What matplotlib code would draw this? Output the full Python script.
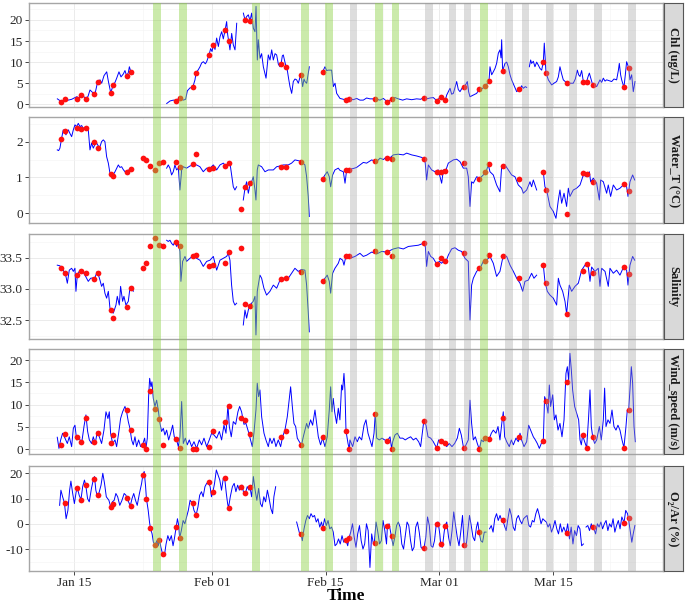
import numpy as np
import matplotlib
matplotlib.use("Agg")
import matplotlib.pyplot as plt

nan = float("nan")
plt.rcParams['font.family'] = ['Liberation Serif', 'DejaVu Serif']
plt.rcParams['axes.unicode_minus'] = False

# ---------------- data (x = day of year) ----------------
tick_days = [15, 32, 46, 60, 74]
tick_labels = ["Jan 15", "Feb 01", "Feb 15", "Mar 01", "Mar 15"]
minor_days = [23.5, 39, 53, 67, 81]

green_start = [24.73, 27.93, 36.92, 42.96, 45.90, 52.07, 54.16, 65.00]
green_end = [25.71, 28.92, 37.91, 43.90, 46.86, 53.00, 55.06, 65.95]
grey_start = [48.99, 58.26, 61.14, 63.03, 68.12, 70.17, 73.13, 76.00, 79.04, 83.26]
grey_end = [49.89, 59.17, 62.04, 63.93, 69.03, 71.07, 74.03, 76.90, 79.99, 84.21]

sample_t = [13.45, 13.85, 15.42, 15.88, 16.45, 17.5, 17.9, 19.5, 19.86, 21.48, 22.02,
            23.45, 23.86, 24.36, 24.97, 25.5, 25.92, 27.56, 28.05, 29.61, 30.0, 31.62,
            32.1, 33.62, 34.07, 35.56, 36.06, 36.67, 40.49, 41.1, 43.0, 45.62, 48.5,
            48.92, 52.07, 53.59, 54.12, 58.1, 59.66, 60.16, 60.73, 63.07, 64.92, 65.66,
            66.11, 67.79, 69.85, 72.8, 73.13, 75.67, 77.64, 78.14, 78.88, 82.74, 83.31]

chl_pts = [0.5, 1.3, 1.3, 2.1, 1.3, 2.5, 5.4, 2.8, 4.6, 6.7, 7.6,
           nan, nan, nan, nan, nan, nan, 0.9, 1.6, 4.0, 7.4, 11.7,
           14.1, 17.5, 15.0, nan, 20.0, 19.8, 9.5, 8.9, 7.0, 7.7, 1.0,
           1.3, 1.3, 0.6, 1.2, 1.6, 0.9, 1.7, 1.0, 4.2, 3.6, 4.3,
           5.5, 7.9, 3.6, 10.1, 7.5, 5.1, 5.4, 5.4, 4.6, 4.0, 8.7]
wt_pts = [2.07, 2.31, 2.37, 2.35, 2.37, 1.98, 1.82, 1.09, 1.05, 1.15, 1.24,
          1.53, 1.49, 1.32, 1.21, 1.40, 1.43, 1.44, 1.30, 1.38, 1.65, 1.23,
          1.26, 1.33, 1.40, 0.11, 0.74, 0.84, 1.30, 1.30, 1.42, 0.96, 1.21,
          1.21, 1.47, 1.55, 1.51, 1.52, 1.15, 1.15, 1.17, 1.40, 0.96, 1.14,
          1.37, 1.33, 0.95, 1.15, 0.65, -0.02, 1.12, 1.10, 0.88, 0.82, 0.62]
sal_pts = [33.34, 33.26, 33.22, 33.29, 33.25, 33.15, 33.25, 32.66, 32.54, 32.71, 33.02,
           33.33, 33.42, 33.68, 33.82, 33.70, 33.69, 33.75, 33.69, 33.53, 33.55, 33.37,
           33.39, 33.41, 33.59, 33.65, 32.75, 32.72, 33.16, 33.18, 33.27, 33.12, 33.53,
           33.52, 33.60, 33.59, 33.53, 33.74, 33.40, 33.49, 33.44, 33.58, 33.34, 33.44,
           33.54, 33.52, 33.18, 33.38, 33.10, 32.60, 33.29, 33.40, 33.26, 33.35, 33.24]
wind_pts = [0.97, 3.4, 2.8, 1.6, 7.1, 1.6, 3.6, 1.5, 3.2, 8.8, 4.3,
            1.0, 0.0, 13.1, 9.0, 6.7, 0.9, 2.2, 0.4, 0.15, 0.15, 0.6,
            4.1, 6.1, 9.8, 7.1, 6.5, 3.4, 2.7, 4.2, 1.0, 2.7, 4.1,
            0.0, 7.8, 1.9, 0.15, 6.3, 0.3, 1.9, 1.3, 0.2, 0.0, 2.6,
            2.2, 6.9, 2.7, 1.9, 10.9, 15.0, 3.1, 0.4, 2.8, 0.4, 8.8]
o2_pts = [nan, 8.3, 14.0, 9.6, 15.3, 17.7, 11.2, 6.7, 8.0, 10.4, 7.1,
          19.5, 10.0, -1.7, -8.3, -6.3, -12.1, -1.3, -5.7, 8.3, 3.6, 16.4,
          12.5, 18.3, 6.3, 14.7, 12.3, 14.7, nan, nan, -3.9, -1.7, -6.4,
          -5.7, -7.5, -0.8, -4.9, -9.6, -0.1, -7.9, -0.8, -8.3, -3.1, nan,
          nan, 1.6, nan, nan, nan, -3.7, nan, nan, -1.3, 0.5, 2.4]

chl_line = [
    (12.95, 1.3), (13.48, 0.6), (13.89, 1.3), (14.31, 1.0), (14.72, 1.2), (15.33, 1.8),
    (15.66, 1.5), (15.95, 2.1), (16.23, 1.8), (16.48, 1.3), (16.73, 1.9), (16.97, 3.4),
    (17.3, 2.8), (17.59, 2.5), (17.92, 5.4), (18.21, 5.8), (18.41, 5.0), (18.7, 6.8),
    (19.03, 7.7), (19.23, 5.5), (19.52, 2.8), (19.85, 4.6), (20.05, 5.2), (20.26, 6.2),
    (20.54, 7.7), (20.79, 6.5), (21.08, 7.2), (21.28, 8.0), (21.49, 6.7), (21.69, 7.5),
    (21.82, 8.9), (22.02, 7.6), (22.31, 7.2), (24.0, nan),
    (26.42, 0.2), (26.83, 0.8), (27.24, 1.0), (27.56, 0.9), (28.06, 1.6), (28.47, 1.0),
    (28.75, 1.2), (28.96, 3.2), (29.29, 3.9), (29.62, 4.0), (29.9, 5.8), (30.03, 7.4),
    (30.31, 8.2), (30.52, 8.9), (30.72, 9.8), (30.93, 10.1), (31.18, 9.6), (31.34, 10.1),
    (31.63, 11.7), (31.83, 13.2), (32.0, 12.5), (32.16, 14.1), (32.37, 13.0), (32.57, 15.7),
    (32.78, 13.7), (32.98, 16.0), (33.19, 17.2), (33.39, 15.5), (33.6, 17.5), (33.8, 19.6),
    (33.93, 16.5), (34.05, 15.0), (34.21, 12.9), (34.42, 16.8), (34.62, 14.1), (34.83, 12.9),
    (35.04, 19.2), (35.4, nan),
    (35.86, 21.6), (36.06, 20.0), (36.27, 20.8), (36.47, 21.2), (36.68, 19.8), (36.88, 21.6),
    (37.09, 18.0), (37.29, 17.2), (37.42, 23.2), (37.58, 10.5), (37.7, 15.3), (37.91, 10.9),
    (38.11, 12.0), (38.32, 8.9), (38.65, 6.2), (38.93, 11.7), (39.14, 10.5), (39.35, 12.9),
    (39.55, 10.5), (39.76, 12.0), (39.96, 11.7), (40.17, 9.5), (40.37, 8.9), (40.5, 9.5),
    (40.66, 11.5), (40.78, 11.7), (41.11, 8.9), (41.27, 8.1), (41.44, 6.0), (41.6, 4.2),
    (41.81, 2.6), (42.01, 5.4), (42.22, 6.0), (42.42, 5.8), (42.63, 5.0), (42.84, 6.5),
    (42.96, 7.0), (43.16, 4.2), (43.33, 6.0), (43.45, 5.4), (43.66, 5.0), (43.98, 8.9),
    (44.7, nan),
    (45.5, 7.6), (45.63, 7.7), (45.91, 8.9), (46.12, 8.0), (46.32, 8.1), (46.73, 8.1),
    (46.94, 4.2), (47.15, 5.0), (47.35, 2.6), (47.76, 1.4), (48.17, 1.2), (48.5, 1.0),
    (48.91, 1.3), (49.4, 1.1), (49.81, 1.4), (50.22, 1.0), (50.63, 1.0), (51.04, 1.5),
    (51.45, 1.3), (52.07, 1.3), (52.69, 1.0), (53.1, 1.4), (53.59, 0.6), (54.12, 1.2),
    (54.53, 1.6), (54.94, 1.3), (55.48, 1.0), (55.97, 1.3), (56.59, 1.1), (57.2, 1.3),
    (57.69, 1.2), (58.1, 1.6), (58.43, 1.3), (58.84, 1.5), (59.25, 1.6), (59.66, 0.9),
    (60.16, 1.7), (60.49, 1.3), (60.73, 1.0), (60.9, 2.2), (61.1, 3.0), (61.31, 3.8),
    (61.51, 2.4), (61.72, 2.6), (61.92, 4.0), (62.13, 5.4), (62.33, 3.5), (62.54, 3.0),
    (62.78, 3.8), (63.07, 4.2), (63.28, 4.8), (63.44, 5.4), (63.6, 3.0), (63.77, 1.8),
    (64.18, 2.2), (64.59, 2.6), (64.92, 3.6), (65.33, 3.8), (65.66, 4.3), (66.11, 5.5),
    (66.23, 8.9), (66.44, 7.0), (66.64, 7.7), (66.85, 8.5), (67.05, 9.7), (67.26, 12.1),
    (67.46, 12.9), (67.59, 11.0), (67.67, 15.3), (67.79, 7.9), (68.08, 9.7), (68.29, 10.0),
    (68.49, 8.9), (68.7, 7.0), (68.9, 5.8), (69.19, 4.5), (69.52, 3.0), (69.72, 3.4),
    (69.93, 3.6), (70.13, 4.4), (70.34, 3.8), (70.58, 4.2), (70.75, 4.0), (70.9, nan),
    (71.08, 8.9), (71.24, 10.5), (71.36, 9.7), (71.57, 10.2), (71.77, 8.9), (71.98, 10.0),
    (72.18, 9.3), (72.39, 8.5), (72.6, 8.1), (72.8, 10.1), (72.92, 14.5), (73.13, 7.5),
    (73.42, 5.8), (73.83, 4.6), (74.11, 5.0), (74.44, 5.4), (74.65, 6.5), (74.85, 8.9),
    (75.06, 7.2), (75.26, 5.8), (75.67, 5.1), (76.08, 5.0), (76.49, 5.0), (76.74, 6.0),
    (76.99, 8.1), (77.15, 7.0), (77.32, 6.6), (77.52, 8.0), (77.73, 5.4), (78.14, 5.4),
    (78.3, 6.5), (78.47, 7.4), (78.88, 4.6), (79.16, 4.5), (79.37, 4.2), (79.57, 5.0),
    (79.78, 5.8), (79.98, 5.2), (80.19, 6.2), (80.4, 5.5), (80.6, 5.8), (80.93, 5.6),
    (81.22, 5.4), (81.5, 6.0), (81.83, 5.8), (82.04, 8.0), (82.16, 9.7), (82.32, 7.0),
    (82.45, 5.8), (82.73, 4.0), (82.9, 7.0), (83.06, 10.1), (83.31, 8.7), (83.47, 5.8),
    (83.68, 7.0), (83.88, 3.0), (84.09, 5.4)]

wt_line = [
    (12.94, 1.77), (13.11, 1.75), (13.27, 1.82), (13.48, 2.1), (13.68, 2.33), (13.85, 2.28),
    (14.01, 2.19), (14.18, 2.28), (14.3, 2.33), (14.5, 2.23), (14.71, 2.14), (14.92, 2.33),
    (15.12, 2.47), (15.33, 2.42), (15.53, 2.51), (15.74, 2.42), (15.94, 2.45), (16.15, 2.37),
    (16.35, 2.40), (16.56, 2.42), (16.76, 2.33), (16.97, 1.77), (17.17, 1.96), (17.38, 1.82),
    (17.58, 1.92), (17.79, 1.96), (17.99, 1.88), (18.2, 1.86), (18.4, 2.0), (18.61, 2.05),
    (18.81, 2.0), (19.02, 1.58), (19.23, 1.40), (19.43, 1.12), (19.64, 1.07), (19.84, 1.08),
    (20.05, 1.16), (20.25, 1.25), (20.46, 1.35), (20.66, 1.28), (20.87, 1.30), (21.07, 1.22),
    (21.28, 1.16), (21.48, 1.15), (21.69, 1.21), (21.89, 1.18), (22.1, 1.24), (24.0, nan),
    (26.41, 1.26), (26.61, 1.35), (26.82, 1.26), (27.02, 1.07), (27.23, 1.16), (27.43, 1.35),
    (27.64, 1.21), (27.85, 1.26), (28.05, 0.65), (28.26, 1.21), (28.46, 1.30), (28.87, 1.26),
    (29.28, 1.32), (29.69, 1.35), (30.1, 1.35), (30.51, 1.30), (30.92, 1.16), (31.34, 1.26),
    (31.75, 1.26), (32.16, 1.35), (32.57, 1.21), (32.98, 1.35), (33.39, 1.40), (33.8, 1.30),
    (34.0, 1.42), (34.21, 1.40), (34.41, 1.07), (34.62, 0.74), (34.82, 0.65), (35.03, 0.74),
    (35.4, nan),
    (35.85, 0.37), (36.06, 0.70), (36.26, 0.88), (36.47, 0.56), (36.67, 0.79), (36.88, 0.88),
    (37.08, 1.02), (37.29, 0.65), (37.41, 0.37), (37.57, 1.21), (37.7, 1.35), (38.11, 1.30),
    (38.52, 1.16), (38.93, 1.21), (39.55, 1.21), (39.96, 1.30), (40.37, 1.32), (40.78, 1.35),
    (41.39, 1.35), (41.8, 1.40), (42.21, 1.49), (42.62, 1.47), (43.03, 1.44), (43.44, 1.35),
    (43.65, 1.02), (43.85, 0.47), (43.98, -0.09), (44.7, nan),
    (45.62, 0.96), (45.91, 1.07), (46.19, 1.16), (46.44, 1.02), (46.61, 0.74), (46.85, 1.07),
    (47.14, 1.21), (47.55, 1.26), (47.75, 1.20), (48.17, 1.16), (48.38, 0.84), (48.58, 1.21),
    (48.99, 1.23), (49.4, 1.25), (49.81, 1.28), (50.22, 1.35), (50.63, 1.42), (51.04, 1.40),
    (51.66, 1.49), (52.28, 1.44), (52.69, 1.54), (53.1, 1.50), (53.51, 1.58), (53.92, 1.55),
    (54.33, 1.63), (54.94, 1.65), (55.56, 1.63), (55.97, 1.68), (56.59, 1.63), (57.2, 1.60),
    (57.82, 1.56), (58.23, 1.49), (58.43, 0.93), (58.64, 1.35), (59.05, 1.21), (59.46, 1.16),
    (59.87, 1.21), (60.28, 0.84), (60.49, 1.21), (60.81, 1.21), (61.1, 1.40), (61.72, 1.49),
    (62.13, 1.51), (62.54, 1.44), (62.95, 1.26), (63.36, 1.26), (63.56, 1.02), (63.77, 0.19),
    (63.97, 0.88), (64.18, 0.84), (64.59, 1.02), (65.0, 0.98), (65.41, 1.07), (65.82, 1.21),
    (66.03, 1.35), (66.23, 1.16), (66.64, 1.07), (67.05, 0.79), (67.46, 0.60), (67.67, 1.30),
    (68.08, 1.35), (68.49, 1.21), (68.9, 1.07), (69.31, 1.02), (69.72, 0.79), (70.13, 0.70),
    (70.34, 0.56), (70.75, 0.65), (71.16, 0.88), (71.36, 0.74), (71.57, 0.93), (71.98, 0.65),
    (72.4, nan),
    (72.8, 1.15), (73.0, 0.74), (73.21, 0.65), (73.62, 0.19), (74.03, 0.05), (74.36, -0.14),
    (74.65, 0.37), (74.85, 0.65), (75.06, 0.28), (75.35, 0.56), (75.67, 0.19), (75.88, 0.70),
    (76.08, 0.47), (76.49, 0.65), (76.9, 0.70), (77.32, 0.79), (77.73, 1.07), (78.14, 1.02),
    (78.47, 1.16), (78.63, 0.88), (78.96, 0.98), (79.37, 0.84), (79.7, 0.37), (79.86, 0.93),
    (80.19, 0.88), (80.6, 0.56), (80.8, 0.79), (81.09, 0.47), (81.42, 0.79), (81.83, 0.65),
    (82.24, 0.70), (82.65, 0.79), (83.06, 0.74), (83.23, 0.47), (83.47, 0.88), (83.8, 1.07),
    (84.05, 0.93)]

sal_line = [
    (12.94, 33.38), (13.27, 33.37), (13.68, 33.30), (14.01, 33.20), (14.18, 33.09), (14.42, 33.30),
    (14.71, 33.33), (14.92, 33.28), (15.12, 33.33), (15.24, 32.96), (15.41, 33.22), (15.65, 33.28),
    (15.94, 33.30), (16.35, 33.22), (16.76, 33.12), (17.05, 33.17), (17.58, 33.18), (17.87, 33.28),
    (18.2, 33.14), (18.4, 33.04), (18.61, 33.09), (18.81, 32.93), (19.02, 32.85), (19.23, 32.96),
    (19.43, 32.69), (19.64, 32.63), (19.84, 32.61), (20.17, 32.74), (20.33, 32.88), (20.58, 32.74),
    (20.74, 33.04), (20.99, 32.80), (21.15, 32.88), (21.4, 32.74), (21.69, 32.80), (21.89, 33.01),
    (22.22, 33.04), (22.3, 32.96), (24.0, nan),
    (26.41, 33.78), (26.61, 33.76), (26.82, 33.78), (27.02, 33.73), (27.23, 33.70), (27.43, 33.76),
    (27.64, 33.68), (27.85, 33.73), (28.05, 33.60), (28.17, 33.12), (28.38, 33.44), (28.67, 33.52),
    (28.87, 33.44), (29.28, 33.49), (29.69, 33.53), (30.1, 33.49), (30.51, 33.46), (30.92, 33.36),
    (31.34, 33.44), (31.75, 33.46), (32.16, 33.52), (32.57, 33.30), (32.98, 33.46), (33.39, 33.49),
    (33.8, 33.52), (34.0, 33.57), (34.21, 33.46), (34.41, 33.06), (34.62, 32.80), (34.82, 32.74),
    (35.03, 32.77), (35.4, nan),
    (35.85, 32.42), (36.06, 32.66), (36.26, 32.53), (36.47, 32.66), (36.67, 32.74), (37.08, 32.80),
    (37.29, 32.88), (37.41, 32.26), (37.57, 32.96), (37.9, 33.22), (38.11, 33.17), (38.39, 33.01),
    (38.72, 32.90), (39.13, 32.96), (39.55, 33.06), (39.96, 33.01), (40.37, 33.14), (40.78, 33.17),
    (41.39, 33.17), (41.8, 33.25), (42.21, 33.33), (42.62, 33.28), (43.03, 33.31), (43.44, 33.30),
    (43.65, 33.06), (43.85, 32.63), (43.98, 32.31), (44.7, nan),
    (45.62, 33.10), (45.91, 33.17), (46.19, 33.22), (46.44, 33.12), (46.61, 32.93), (46.85, 33.25),
    (47.14, 33.33), (47.55, 33.41), (47.76, 33.49), (48.09, 33.46), (48.25, 33.38), (48.5, 33.53),
    (48.99, 33.49), (49.61, 33.52), (50.22, 33.57), (50.63, 33.52), (51.04, 33.54), (51.66, 33.59),
    (52.28, 33.56), (52.89, 33.60), (53.51, 33.59), (54.33, 33.64), (54.94, 33.66), (55.56, 33.64),
    (56.18, 33.68), (56.79, 33.69), (57.41, 33.70), (58.02, 33.73), (58.27, 33.68), (58.43, 33.36),
    (58.64, 33.60), (58.93, 33.52), (59.25, 33.49), (59.66, 33.40), (59.99, 33.44), (60.28, 33.41),
    (60.57, 33.46), (60.81, 33.44), (61.1, 33.54), (61.51, 33.64), (61.92, 33.66), (62.33, 33.62),
    (62.74, 33.60), (63.15, 33.49), (63.56, 33.44), (63.77, 32.50), (63.97, 33.06), (64.18, 33.17),
    (64.59, 33.28), (65.0, 33.33), (65.41, 33.44), (65.82, 33.46), (66.23, 33.52), (66.64, 33.41),
    (67.05, 33.20), (67.46, 33.28), (67.87, 33.54), (68.29, 33.52), (68.7, 33.38), (69.11, 33.28),
    (69.52, 33.17), (69.93, 33.09), (70.26, 32.96), (70.54, 33.12), (70.95, 33.14), (71.36, 33.25),
    (71.65, 33.17), (71.98, 33.22), (72.4, nan),
    (72.8, 33.38), (73.0, 33.12), (73.29, 32.96), (73.62, 32.90), (74.03, 32.85), (74.44, 32.74),
    (74.65, 33.17), (74.85, 33.06), (75.18, 32.96), (75.47, 32.80), (75.67, 32.60), (76.0, 33.06),
    (76.29, 32.96), (76.7, 33.04), (77.11, 33.09), (77.52, 33.30), (77.93, 33.38), (78.34, 33.35),
    (78.55, 33.12), (78.75, 33.35), (79.16, 33.28), (79.57, 33.33), (79.78, 33.04), (79.98, 33.33),
    (80.4, 33.28), (80.8, 33.04), (81.01, 33.33), (81.42, 33.25), (81.83, 33.30), (82.24, 33.22),
    (82.65, 33.34), (83.06, 33.30), (83.23, 33.06), (83.47, 33.38), (83.8, 33.52), (84.05, 33.46)]

wind_line = [
    (12.94, 2.7), (13.15, 0.2), (13.36, 2.1), (13.6, 3.6), (13.89, 2.5), (14.18, 1.3),
    (14.42, 2.8), (14.71, 0.6), (14.92, 4.7), (15.12, 5.4), (15.33, 2.1), (15.65, 2.5),
    (15.94, 1.3), (16.23, 5.1), (16.47, 7.7), (16.68, 4.0), (16.89, 2.1), (17.17, 1.3),
    (17.38, 2.8), (17.62, 1.3), (17.87, 4.0), (18.12, 2.8), (18.4, 1.3), (18.69, 4.3),
    (18.94, 8.4), (19.18, 6.9), (19.35, 8.4), (19.51, 3.6), (19.76, 1.3), (20.05, 2.1),
    (20.25, 0.6), (20.5, 3.6), (20.74, 6.9), (20.99, 8.4), (21.28, 9.6), (21.48, 8.4),
    (21.69, 6.2), (21.89, 4.7), (22.1, 2.1), (22.3, 1.0), (22.51, 2.8), (22.71, 0.6),
    (22.96, 2.1), (23.21, 0.6), (23.45, 1.0), (23.7, 2.5), (23.86, 0.2), (24.03, 2.5),
    (24.19, 11.8), (24.32, 15.9), (24.48, 14.0), (24.6, 15.1), (24.77, 11.4), (24.97, 9.6),
    (25.18, 11.0), (25.38, 8.8), (25.59, 5.8), (25.79, 4.0), (26.0, 4.7), (26.2, 3.2),
    (26.41, 4.3), (26.66, 2.1), (26.9, 3.6), (27.15, 5.4), (27.35, 2.8), (27.64, 2.1),
    (27.85, 0.6), (28.05, 2.8), (28.26, 10.7), (28.46, 1.3), (28.71, 2.5), (28.95, 1.0),
    (29.2, 2.1), (29.49, 0.6), (29.78, 1.7), (30.1, 0.2), (30.43, 2.1), (30.72, 1.0),
    (31.01, 2.5), (31.34, 0.6), (31.66, 2.1), (31.95, 3.6), (32.24, 3.2), (32.57, 2.5),
    (32.9, 4.0), (33.18, 2.1), (33.47, 5.4), (33.72, 3.6), (33.96, 9.9), (34.13, 5.1),
    (34.37, 2.8), (34.62, 6.2), (34.91, 5.6), (35.19, 8.4), (35.4, 9.6), (35.64, 8.4),
    (35.93, 5.6), (36.18, 5.8), (36.47, 4.0), (36.75, 2.1), (36.96, 0.6), (37.16, 3.6),
    (37.41, 8.8), (37.57, 14.8), (37.74, 11.8), (37.9, 13.3), (38.11, 7.3), (38.4, 3.6),
    (38.64, 2.1), (38.93, 0.6), (39.13, 2.5), (39.38, 1.3), (39.63, 2.5), (39.87, 0.6),
    (40.16, 2.1), (40.45, 0.6), (40.69, 2.8), (40.98, 4.3), (41.27, 7.3), (41.52, 11.4),
    (41.68, 14.0), (41.89, 9.6), (42.09, 5.8), (42.3, 5.1), (42.5, 2.5), (42.75, 1.7),
    (43.03, 1.0), (43.24, 2.8), (43.44, 4.3), (43.65, 5.8), (43.85, 4.7), (44.14, 6.6),
    (44.39, 5.4), (44.68, 8.8), (44.88, 5.8), (45.09, 2.8), (45.37, 1.0), (45.62, 2.5),
    (45.91, 0.6), (46.19, 2.8), (46.44, 8.8), (46.61, 14.0), (46.77, 8.4), (46.93, 11.4),
    (47.1, 8.4), (47.34, 5.8), (47.55, 9.2), (47.75, 6.6), (47.96, 14.4), (48.08, 13.3),
    (48.25, 17.0), (48.37, 13.3), (48.5, 4.1), (48.75, 1.3), (48.91, 0.0), (48.99, 2.1),
    (49.32, 0.6), (49.61, 2.8), (49.89, 1.7), (50.14, 2.8), (50.43, 2.1), (50.72, 5.4),
    (50.96, 6.6), (51.21, 3.6), (51.45, 2.1), (51.7, 0.6), (51.95, 3.6), (52.11, 8.1),
    (52.28, 2.5), (52.6, 2.1), (52.93, 2.5), (53.26, 2.1), (53.59, 1.9), (53.92, 2.8),
    (54.12, 0.15), (54.25, 1.7), (54.53, 3.2), (54.82, 3.6), (55.15, 2.5), (55.48, 2.5),
    (55.8, 2.1), (56.13, 2.5), (56.46, 2.8), (56.79, 2.1), (57.12, 2.5), (57.45, 1.7),
    (57.69, 0.6), (57.94, 4.3), (58.1, 6.6), (58.35, 5.4), (58.6, 2.8), (58.93, 2.5),
    (59.25, 1.7), (59.58, 0.6), (59.66, 0.3), (59.91, 2.1), (60.16, 1.9), (60.4, 1.3),
    (60.73, 1.3), (60.9, 0.6), (61.22, 1.3), (61.55, 0.6), (61.88, 1.3), (62.21, 2.5),
    (62.46, 4.7), (62.7, 3.2), (62.95, 0.6), (63.07, 0.2), (63.28, 1.0), (63.56, 2.1),
    (63.77, 11.0), (63.97, 5.8), (64.18, 2.1), (64.43, 2.8), (64.67, 1.3), (64.92, 0.0),
    (65.17, 2.1), (65.41, 1.7), (65.66, 2.6), (65.9, 2.5), (66.11, 2.2), (66.4, 3.6),
    (66.64, 4.3), (66.97, 3.6), (67.22, 5.1), (67.46, 2.1), (67.71, 6.2), (67.87, 8.4),
    (68.04, 2.8), (68.29, 1.7), (68.61, 0.6), (68.86, 2.1), (69.11, 1.0), (69.43, 2.5),
    (69.72, 1.7), (69.93, 3.6), (70.13, 2.1), (70.42, 0.6), (70.75, 1.7), (70.99, 5.4),
    (71.24, 4.3), (71.57, 2.8), (71.82, 2.1), (72.06, 1.3), (72.31, 0.2), (72.55, 1.3),
    (72.8, 1.9), (72.96, 11.8), (73.13, 10.9), (73.38, 8.1), (73.54, 14.4), (73.7, 9.6),
    (73.95, 12.2), (74.16, 6.6), (74.36, 7.7), (74.61, 4.3), (74.85, 5.8), (75.1, 2.8),
    (75.35, 6.6), (75.59, 17.0), (75.76, 18.5), (75.92, 15.5), (76.08, 21.5), (76.25, 17.8),
    (76.41, 13.3), (76.66, 9.6), (76.9, 8.1), (77.15, 6.6), (77.32, 2.1), (77.48, 1.0),
    (77.64, 3.1), (77.89, 1.7), (78.14, 0.4), (78.38, 7.3), (78.55, 13.3), (78.71, 5.1),
    (78.88, 2.8), (79.12, 1.3), (79.37, 2.1), (79.7, 5.1), (79.94, 2.1), (80.19, 6.6),
    (80.35, 13.7), (80.52, 5.1), (80.76, 6.6), (81.01, 5.8), (81.26, 8.8), (81.5, 5.1),
    (81.75, 4.3), (81.99, 5.4), (82.24, 4.3), (82.49, 2.1), (82.73, 0.4), (82.98, 5.1),
    (83.14, 8.8), (83.31, 8.8), (83.47, 13.3), (83.64, 18.5), (83.8, 14.8), (83.97, 5.1),
    (84.13, 1.7)]

o2_line = [
    (13.23, 7.3), (13.39, 13.3), (13.60, 10.7), (13.82, 8.3), (14.03, 2.0), (14.25, 5.3),
    (14.46, 13.3), (14.62, 16.9), (14.84, 12.0), (15.05, 8.0), (15.27, 12.7), (15.43, 14.0),
    (15.64, 11.3), (15.86, 9.6), (16.07, 14.7), (16.29, 17.3), (16.45, 15.3), (16.67, 10.0),
    (16.88, 8.7), (17.15, 14.0), (17.37, 17.3), (17.53, 18.7), (17.69, 13.3), (17.85, 11.2),
    (18.06, 12.0), (18.33, 15.3), (18.55, 20.0), (18.76, 16.0), (18.98, 10.7), (19.30, 9.3),
    (19.52, 6.7), (19.73, 8.7), (19.95, 9.3), (20.16, 12.0), (20.38, 10.7), (20.64, 7.3),
    (20.91, 9.3), (21.18, 12.0), (21.40, 11.3), (21.50, 10.4), (21.72, 8.7), (21.93, 7.1),
    (22.15, 10.0), (22.36, 12.0), (22.58, 9.3), (22.79, 7.3), (23.06, 12.0), (23.33, 16.0),
    (23.49, 19.5), (23.65, 20.7), (23.82, 14.7), (23.92, 10.0), (24.14, 5.3), (24.30, 0.7),
    (24.41, -1.7), (24.62, -4.0), (24.78, -7.3), (25.00, -8.3), (25.21, -6.7), (25.38, -8.7),
    (25.54, -6.3), (25.70, -9.3), (25.86, -11.3), (25.97, -12.1), (26.13, -12.7), (26.34, -8.0),
    (26.56, -4.7), (26.77, -6.7), (26.99, -4.7), (27.20, -8.7), (27.36, -6.0), (27.58, -1.3),
    (27.74, 2.0), (27.90, -0.7), (28.01, -5.7), (28.22, -2.7), (28.44, 1.3), (28.65, 0.0),
    (28.87, 2.7), (29.08, 5.3), (29.30, 9.3), (29.57, 8.3), (29.78, 5.3), (30.05, 3.6),
    (30.27, 6.7), (30.48, 11.3), (30.70, 12.7), (30.91, 10.7), (31.13, 14.7), (31.34, 16.0),
    (31.56, 16.4), (31.77, 14.7), (31.93, 10.7), (32.10, 12.5), (32.31, 16.0), (32.53, 21.3),
    (32.74, 19.3), (32.96, 17.3), (33.17, 13.3), (33.39, 18.0), (33.55, 18.3), (33.76, 12.0),
    (33.92, 8.0), (34.03, 6.3), (34.25, 10.7), (34.51, 14.7), (34.73, 16.0), (34.94, 12.7),
    (35.16, 15.3), (35.37, 13.3), (35.48, 14.7), (35.70, 15.3), (35.91, 12.0), (36.13, 12.3),
    (36.34, 14.7), (36.56, 13.3), (36.66, 14.7), (36.88, 10.7), (37.09, 18.7), (37.31, 13.3),
    (37.52, 9.3), (37.74, 14.0), (37.96, 8.0), (38.17, 6.7), (38.38, 10.7), (38.60, 8.7),
    (38.82, 13.3), (39.03, 10.0), (39.25, 6.0), (39.46, 4.0), (39.62, 10.7), (39.84, 14.7),
    (41.0, nan),
    (42.42, 0.7), (42.63, -2.0), (42.85, -4.7), (42.95, -3.9), (43.12, -6.7), (43.33, -2.0),
    (43.55, 1.3), (43.76, 3.3), (43.98, 2.0), (44.19, 4.0), (44.41, 2.7), (44.62, 3.3),
    (44.84, 0.7), (45.05, 2.0), (45.27, -1.3), (45.48, 0.7), (45.64, -1.7), (45.86, 2.0),
    (46.07, -0.7), (46.29, 1.3), (46.50, -2.0), (46.72, -1.3), (46.93, -3.3), (47.15, -8.7),
    (47.36, -8.0), (47.58, -6.0), (47.79, -8.0), (48.01, -4.7), (48.22, -7.3), (48.49, -6.4),
    (48.71, -8.7), (48.87, -5.7), (49.08, -3.3), (49.30, 0.0), (49.51, -5.3), (49.73, -9.3),
    (49.94, -4.0), (50.16, -0.7), (50.37, -6.7), (50.59, -10.0), (50.80, -8.0), (51.02, 0.0),
    (51.23, -2.7), (51.45, -17.3), (51.66, -4.0), (51.88, -8.0), (51.99, -7.5), (52.20, 0.7),
    (52.42, -3.3), (52.63, -8.0), (52.85, -6.7), (53.06, 1.3), (53.28, -2.7), (53.49, -8.0),
    (53.60, -0.8), (53.81, 0.0), (54.08, -4.9), (54.30, -8.7), (54.51, -5.3), (54.73, -0.7),
    (54.94, 0.7), (55.16, -1.3), (55.37, -8.0), (55.59, -10.0), (55.80, -4.7), (56.02, 0.7),
    (56.23, -0.7), (56.45, -6.7), (56.66, -10.7), (56.88, -9.3), (57.09, -1.3), (57.31, 0.7),
    (57.52, -3.3), (57.74, -9.3), (57.95, -10.0), (58.11, -9.6), (58.33, -5.3), (58.54, 2.7),
    (58.76, -0.7), (58.97, -8.7), (59.19, -9.3), (59.40, -6.7), (59.62, -0.1), (59.84, 0.7),
    (60.05, -4.0), (60.16, -7.9), (60.37, -9.3), (60.59, -3.3), (60.70, -0.8), (60.91, 0.7),
    (61.13, -5.3), (61.34, -8.7), (61.56, -2.7), (61.77, 4.7), (61.99, -0.7), (62.20, -5.3),
    (62.42, -8.7), (62.63, -3.3), (62.85, 3.3), (63.06, -8.3), (63.28, -9.3), (63.49, -3.3),
    (63.71, 3.3), (63.92, -0.7), (64.14, -5.3), (64.35, -6.7), (64.57, -1.3), (64.73, 0.7),
    (64.89, -3.1), (65.10, -6.7), (65.32, -7.3), (65.53, -3.3), (65.75, -3.3), (65.95, nan),
    (66.18, -2.0), (66.39, -0.7), (66.61, -3.3), (66.82, 2.0), (67.04, 4.0), (67.25, 1.3),
    (67.47, 3.3), (67.68, 1.3), (67.79, 1.6), (68.01, -0.7), (68.22, -2.7), (68.44, 2.0),
    (68.65, 6.0), (68.87, 3.3), (69.08, -1.3), (69.30, -2.7), (69.51, 2.0), (69.73, 3.3),
    (69.94, 1.3), (70.16, 0.0), (70.37, 2.0), (70.59, 2.7), (70.80, 3.3), (71.02, -0.7),
    (71.23, -1.3), (71.45, 1.3), (71.66, 0.7), (71.88, 4.0), (72.09, 6.0), (72.31, 3.3),
    (72.52, 0.0), (72.74, 2.0), (72.95, 1.3), (73.17, 0.7), (73.38, -1.3), (73.60, 0.0),
    (73.81, -3.3), (74.03, -1.3), (74.24, 1.3), (74.46, -2.0), (74.67, -4.0), (74.89, 0.0),
    (75.10, -3.3), (75.32, -1.3), (75.59, -3.7), (75.80, 0.0), (76.02, -6.0), (76.23, -1.3),
    (76.45, -8.0), (76.66, -2.7), (76.88, -4.7), (77.09, -0.7), (77.31, -2.0), (77.52, -8.7),
    (77.74, -8.0), (77.9, nan),
    (78.06, -1.3), (78.28, -0.7), (78.49, -2.7), (78.71, 0.0), (78.81, -1.3), (79.03, -2.0),
    (79.24, -4.0), (79.46, 0.0), (79.67, -1.3), (79.89, 0.7), (80.10, -2.0), (80.32, 0.0),
    (80.53, 1.3), (80.75, -2.7), (80.96, 0.0), (81.18, -1.3), (81.39, 2.0), (81.61, -3.3),
    (81.82, -0.7), (82.04, 1.3), (82.25, -2.0), (82.47, 2.7), (82.74, 0.5), (82.95, 5.3),
    (83.17, 4.0), (83.27, 2.4), (83.49, -2.7), (83.70, -7.3), (83.87, -4.0), (84.08, -0.7)]

strip_labels = ["Chl (ug/L)", "Water_T (\u00b0C)", "Salinity", "Wind_speed (m/s)", "O\u2082/Ar (%)"]
y_limits = [(-0.63, 24.0), (-0.28, 2.68), (32.2, 33.88), (-1.12, 22.4), (-18.7, 23.0)]
y_major = [[0, 5, 10, 15, 20], [0, 1, 2], [32.5, 33.0, 33.5], [0, 5, 10, 15, 20], [-10, 0, 10, 20]]
y_major_labels = [["0", "5", "10", "15", "20"], ["0", "1", "2"], ["32.5", "33.0", "33.5"],
                  ["0", "5", "10", "15", "20"], ["-10", "0", "10", "20"]]
y_minor = [[2.5, 7.5, 12.5, 17.5, 22.5], [0.5, 1.5, 2.5], [32.25, 32.75, 33.25, 33.75],
           [2.5, 7.5, 12.5, 17.5], [-15, -5, 5, 15]]

lines = [chl_line, wt_line, sal_line, wind_line, o2_line]
points = [chl_pts, wt_pts, sal_pts, wind_pts, o2_pts]

# ---------------- layout ----------------
W, H = 685.0, 603.0
fig = plt.figure(figsize=(6.85, 6.03), dpi=100)
fig.patch.set_facecolor("white")
panel_px = [(3.0, 107.0), (117.3, 223.3), (234.0, 338.7), (349.3, 454.3), (465.7, 571.0)]
x_left, x_right = 29.0, 663.0
strip_l, strip_r = 664.0, 682.5
xlim = (9.46, 87.54)

for i, (top, bot) in enumerate(panel_px):
    ax = fig.add_axes([x_left / W, 1 - bot / H, (x_right - x_left) / W, (bot - top) / H])
    ax.set_xlim(*xlim)
    ax.set_ylim(*y_limits[i])
    ax.set_facecolor("white")
    ax.set_yticks(y_major[i])
    ax.set_yticklabels(y_major_labels[i])
    ax.set_yticks(y_minor[i], minor=True)
    ax.set_xticks(tick_days)
    ax.set_xticks(minor_days, minor=True)
    ax.grid(which="major", color="#e8e8e8", lw=0.6)
    ax.grid(which="minor", color="#f4f4f4", lw=0.4)
    ax.set_axisbelow(True)
    for s in ax.spines.values():
        s.set_color("#a6a6a6")
        s.set_linewidth(1.0)
    ax.tick_params(axis="both", which="major", length=3, width=0.7, color="#444444",
                   labelsize=9.5, labelcolor="#262626", pad=1.5)
    ax.tick_params(axis="both", which="minor", length=0)
    if i < 4:
        ax.tick_params(axis="x", which="major", length=0, labelbottom=False)
    else:
        ax.set_xticklabels(tick_labels)
        ax.tick_params(axis="x", pad=1.5)
    t, v = zip(*lines[i])
    ax.plot(t, v, color="#0000ff", lw=0.7, zorder=2)
    ax.scatter(sample_t, points[i], s=17, color="#ff1010", linewidths=0, zorder=3)

    # strip
    sax = fig.add_axes([strip_l / W, 1 - bot / H, (strip_r - strip_l) / W, (bot - top) / H])
    sax.set_facecolor("#d9d9d9")
    sax.set_xticks([])
    sax.set_yticks([])
    for s in sax.spines.values():
        s.set_color("#555555")
        s.set_linewidth(0.8)
    sax.text(0.5, 0.5, strip_labels[i], rotation=270, ha="center", va="center",
             fontsize=9, fontweight="bold", color="#1a1a1a", transform=sax.transAxes)

# event bands overlay spanning all panels
top_all, bot_all = panel_px[0][0], panel_px[-1][1]
ov = fig.add_axes([x_left / W, 1 - bot_all / H, (x_right - x_left) / W, (bot_all - top_all) / H])
ov.set_xlim(*xlim)
ov.set_ylim(0, 1)
ov.axis("off")
ov.set_zorder(10)
ov.patch.set_alpha(0)
for s, e in zip(green_start, green_end):
    ov.axvspan(s, e, color="#8cd246", alpha=0.45, lw=0)
for s, e in zip(grey_start, grey_end):
    ov.axvspan(s, e, color="#a0a0a0", alpha=0.35, lw=0)

fig.text((x_left + x_right) / 2 / W, 1 - 600 / H, "Time", ha="center", va="baseline",
         fontsize=12.5, fontweight="bold", color="black")

fig.savefig("out.png", dpi=100)
